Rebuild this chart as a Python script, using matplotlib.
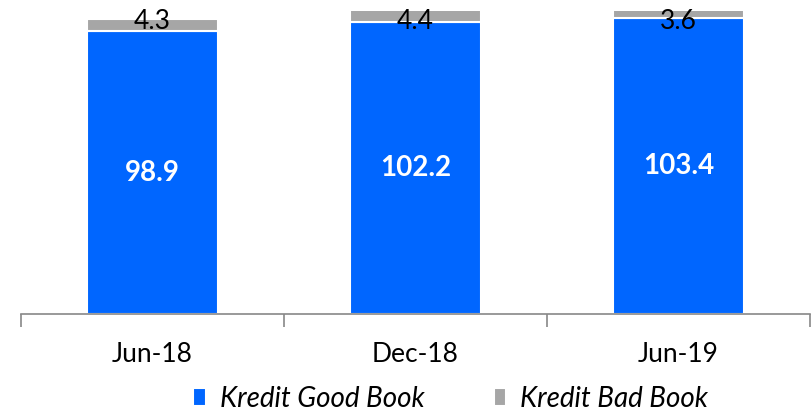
import matplotlib
matplotlib.use("Agg")
import matplotlib.pyplot as plt
from matplotlib.transforms import blended_transform_factory

# data
periods = ["Jun-18", "Dec-18", "Jun-19"]
good_book = [98.9, 102.2, 103.4]
bad_book = [4.3, 4.4, 3.6]

blue = "#0066FF"
grey = "#A6A6A6"
axis_col = "#888888"

plt.rcParams["font.family"] = ["Lato", "DejaVu Sans"]

fig = plt.figure(figsize=(8.12, 4.16), dpi=100)
ax = fig.add_axes([21 / 812, 1 - 314 / 416, 789 / 812, 303 / 416])

x = range(len(periods))
ax.bar(x, good_book, width=0.5, color=blue, edgecolor="white", linewidth=1.5,
       label="Kredit Good Book", zorder=2)
ax.bar(x, bad_book, width=0.5, bottom=good_book, color=grey, edgecolor="white",
       linewidth=1.5, label="Kredit Bad Book", zorder=2)

ax.set_xlim(-0.5, 2.5)
ax.set_ylim(0, 106)

# value labels
trans = blended_transform_factory(ax.transData, ax.transAxes)
for i in x:
    ax.text(i, good_book[i] / 2, f"{good_book[i]:.1f}", ha="center", va="center",
            color="white", fontsize=20, fontweight="bold", zorder=3)
    ax.text(i, 0.965, f"{bad_book[i]:.1f}", transform=trans, ha="center",
            va="center", color="black", fontsize=19, zorder=3)

# axis styling
for s in ["top", "right", "left"]:
    ax.spines[s].set_visible(False)
ax.spines["bottom"].set_color(axis_col)
ax.spines["bottom"].set_linewidth(1.2)
ax.set_yticks([])
ax.set_xticks([-0.5, 0.5, 1.5, 2.5])
ax.set_xticklabels([])
ax.tick_params(axis="x", which="major", length=9, color=axis_col, width=1.2)
ax.set_xticks(list(x), minor=True)
ax.set_xticklabels(periods, minor=True, fontsize=19)
ax.tick_params(axis="x", which="minor", length=0, pad=20)

fig.legend(loc="lower center", bbox_to_anchor=(0.555, -0.05), ncol=2, frameon=False,
           prop={"style": "italic", "size": 20}, handlelength=0.45,
           handleheight=0.6, handletextpad=0.5, columnspacing=2.5)

fig.savefig("out.png", dpi=100)
